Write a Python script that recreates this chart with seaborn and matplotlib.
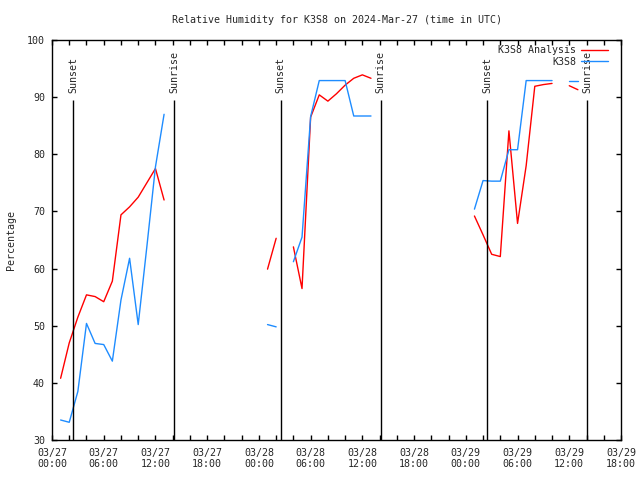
import numpy as np
import pandas as pd
import matplotlib
matplotlib.use("Agg")
import matplotlib.pyplot as plt
from matplotlib.lines import Line2D
import seaborn as sns

# hours after 2024-03-27 00:00 UTC
analysis_hours = [1, 2, 3, 4, 5, 6, 7, 8, 9, 10, 11, 12, 13,
                  25, 26,
                  28, 29, 30, 31, 32, 33, 34, 35, 36, 37,
                  49, 50, 51, 52, 53, 54, 55, 56, 57, 58,
                  60, 61]
analysis_rh = [40.8, 47.0, 51.5, 55.4, 55.1, 54.2, 57.8, 69.4, 70.8, 72.5, 75.0, 77.5, 72.0,
               59.9, 65.3,
               63.8, 56.5, 86.5, 90.4, 89.3, 90.6, 92.1, 93.3, 93.9, 93.3,
               69.2, 65.9, 62.5, 62.1, 84.1, 67.9, 78.0, 91.9, 92.2, 92.4,
               92.0, 91.3]

obs_hours = [1, 2, 3, 4, 5, 6, 7, 8, 9, 10, 11, 12, 13,
             25, 26,
             28, 29, 30, 31, 32, 33, 34, 35, 36, 37,
             49, 50, 51, 52, 53, 54, 55, 56, 57, 58,
             60, 61]
obs_rh = [33.5, 33.1, 38.5, 50.4, 46.9, 46.7, 43.8, 54.5, 61.8, 50.2, 63.8, 77.8, 87.0,
          50.2, 49.8,
          61.2, 65.5, 86.6, 92.9, 92.9, 92.9, 92.9, 86.7, 86.7, 86.7,
          70.4, 75.4, 75.3, 75.3, 80.8, 80.8, 92.9, 92.9, 92.9, 92.9,
          92.9, 92.9]

sunset_hours = [2.47, 26.52, 50.5]
sunrise_hours = [14.19, 38.12, 62.1]

start = pd.Timestamp("2024-03-27 00:00")
tick_hours = list(range(0, 67, 6))
tick_labels = [(start + pd.Timedelta(hours=h)).strftime("%m/%d\n%H:%M") for h in tick_hours]

series_names = ["K3S8 Analysis", "K3S8"]
colors = {"K3S8 Analysis": "#ff0000", "K3S8": "#1e8cff"}


def segments(hours):
    # break the line where an hour is missing
    h = np.array(hours)
    return np.concatenate([[0], np.cumsum(np.diff(h) > 1)])


df = pd.concat([
    pd.DataFrame({"hour": analysis_hours, "rh": analysis_rh,
                  "series": "K3S8 Analysis", "seg": segments(analysis_hours)}),
    pd.DataFrame({"hour": obs_hours, "rh": obs_rh,
                  "series": "K3S8", "seg": segments(obs_hours)}),
], ignore_index=True)

sns.set_style("ticks")
plt.rcParams["font.family"] = ["DejaVu Sans Mono"]
plt.rcParams["font.size"] = 7.2

fig, ax = plt.subplots(figsize=(6.4, 4.8), dpi=100)
fig.subplots_adjust(left=52 / 640, right=621 / 640, bottom=40 / 480, top=440 / 480)

sns.lineplot(data=df, x="hour", y="rh", hue="series", hue_order=series_names,
             units="seg", estimator=None, palette=colors, linewidth=1,
             legend=False, ax=ax)

# sunset / sunrise markers
for h in sunset_hours:
    ax.vlines(h, 30, 89.5, color="black", linewidth=1)
    ax.text(h, 90.7, "Sunset", rotation=90, ha="center", va="bottom", fontsize=7.2)
for h in sunrise_hours:
    ax.vlines(h, 30, 89.5, color="black", linewidth=1)
    ax.text(h, 90.7, "Sunrise", rotation=90, ha="center", va="bottom", fontsize=7.2)

ax.set_xlim(0, 66)
ax.set_ylim(30, 100)
ax.set_xticks(tick_hours)
ax.set_xticklabels(tick_labels, linespacing=1.05)
ax.set_xticks(range(0, 67, 2), minor=True)
ax.set_yticks(range(30, 101, 10))
ax.tick_params(which="both", direction="in", top=True, right=True,
               length=3.5, width=1, color="black", labelsize=7.2)
ax.tick_params(axis="x", pad=6)
ax.tick_params(axis="y", pad=5)
for s in ax.spines.values():
    s.set_color("black")
    s.set_linewidth(1)

ax.set_xlabel("")
ax.set_ylabel("Percentage", fontsize=7.2, labelpad=8)
ax.set_title("Relative Humidity for K3S8 on 2024-Mar-27 (time in UTC)",
             fontsize=7.2, pad=12)

handles = [Line2D([], [], color=colors[n], linewidth=1) for n in series_names]
ax.legend(handles, series_names, loc="upper right", frameon=False, markerfirst=False,
          bbox_to_anchor=(1 - 6 / 569, 1 + 2 / 400),
          handlelength=2.7, handletextpad=0.5, labelspacing=0.15,
          borderaxespad=0.3, fontsize=7.2)

fig.savefig("out.png", dpi=100)
